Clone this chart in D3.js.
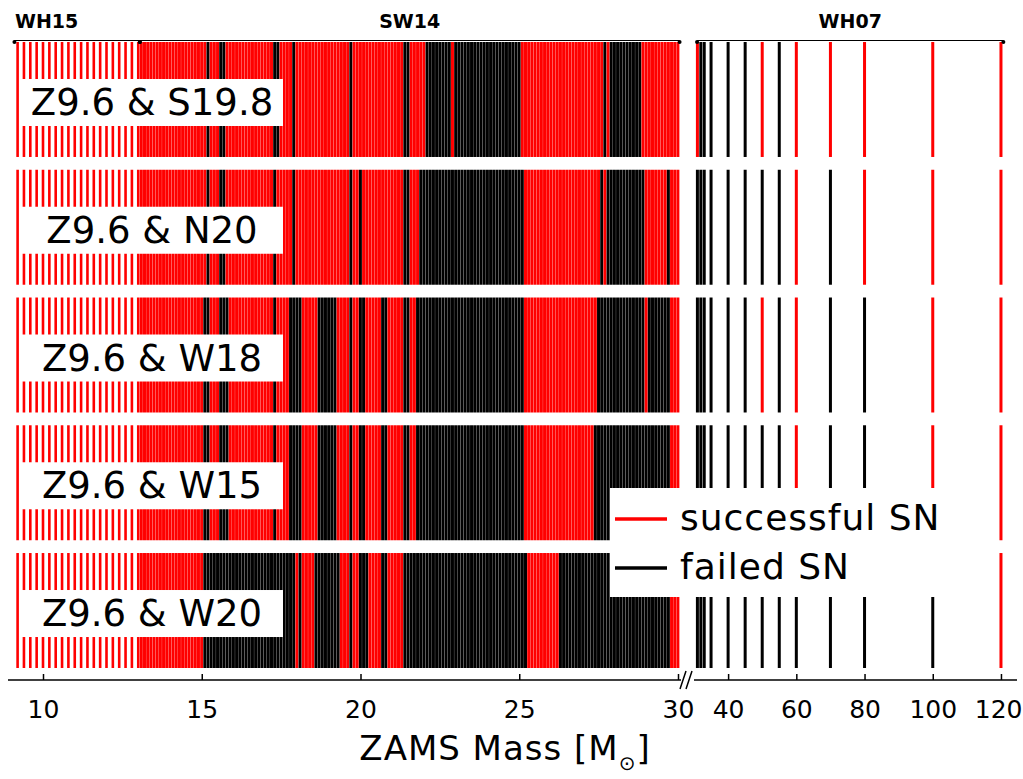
<!DOCTYPE html>
<html>
<head>
<meta charset="utf-8">
<script src="https://cdn.jsdelivr.net/npm/d3@7"></script>
<style>
  body { margin: 0; background: #fff; }
  text { font-family: "DejaVu Sans", sans-serif; }
</style>
</head>
<body>
<svg id="chart"></svg>
<script>
// engine labels, one row each
const rowLabels = ["Z9.6 & S19.8", "Z9.6 & N20", "Z9.6 & W18", "Z9.6 & W15", "Z9.6 & W20"];

// progenitor sets (ZAMS masses)
const wh15Masses = [9.2, 9.4, 9.6, 9.8, 10.0, 10.2, 10.4, 10.6, 10.8, 11.0,
  11.2, 11.4, 11.6, 11.8, 12.0, 12.2, 12.4, 12.6, 12.8, 13.0];
const sw14Masses = [
  13.1, 13.2, 13.3, 13.4, 13.5, 13.6, 13.7, 13.8, 13.9, 14.0,
  14.1, 14.2, 14.3, 14.4, 14.5, 14.6, 14.7, 14.8, 14.9, 15.0,
  15.1, 15.2, 15.3, 15.4, 15.5, 15.6, 15.7, 15.8, 15.9, 16.0,
  16.1, 16.2, 16.3, 16.4, 16.5, 16.6, 16.7, 16.8, 16.9, 17.0,
  17.1, 17.2, 17.3, 17.4, 17.5, 17.6, 17.7, 17.8, 17.9, 18.0,
  18.1, 18.2, 18.3, 18.4, 18.5, 18.6, 18.7, 18.8, 18.9, 19.0,
  19.1, 19.2, 19.3, 19.4, 19.5, 19.6, 19.7, 19.8, 19.9, 20.0,
  20.1, 20.2, 20.3, 20.4, 20.5, 20.6, 20.7, 20.8, 20.9, 21.0,
  21.1, 21.2, 21.3, 21.4, 21.5, 21.6, 21.7, 21.8, 21.9, 22.0,
  22.1, 22.2, 22.3, 22.4, 22.5, 22.6, 22.7, 22.8, 22.9, 23.0,
  23.1, 23.2, 23.3, 23.4, 23.5, 23.6, 23.7, 23.8, 23.9, 24.0,
  24.1, 24.2, 24.3, 24.4, 24.5, 24.6, 24.7, 24.8, 24.9, 25.0,
  25.1, 25.2, 25.3, 25.4, 25.5, 25.6, 25.7, 25.8, 25.9, 26.0,
  26.1, 26.2, 26.3, 26.4, 26.5, 26.6, 26.7, 26.8, 26.9, 27.0,
  27.1, 27.2, 27.3, 27.4, 27.5, 27.6, 27.7, 27.8, 27.9, 28.0,
  28.1, 28.2, 28.3, 28.4, 28.5, 28.6, 28.7, 28.8, 28.9, 29.0,
  29.1, 29.2, 29.3, 29.4, 29.5, 29.6, 29.7, 29.8, 29.9, 30.0];
const wh07Masses = [31, 32, 33, 35, 40, 45, 50, 55, 60, 70, 80, 100, 120];

// SW14 mass ranges that fail to explode, per engine
const failS198 = [[15.2, 15.2], [15.6, 15.7], [17.3, 17.4], [17.9, 17.9], [19.7, 19.7],
  [21.4, 21.5], [22.1, 22.8], [23.0, 25.0], [27.7, 27.7], [27.9, 28.8]];
const failN20 = [[15.2, 15.2], [15.6, 15.7], [17.3, 17.3], [17.9, 17.9], [19.7, 19.7],
  [20.0, 20.0], [21.4, 21.5], [21.9, 25.1], [27.6, 27.6], [27.8, 28.9], [29.7, 29.7]];
const failW18 = [[15.1, 15.2], [15.6, 15.8], [17.3, 17.3], [17.8, 18.1], [18.7, 19.2],
  [19.7, 19.7], [20.0, 20.1], [20.7, 20.8], [21.4, 21.5], [21.8, 25.1], [27.5, 28.9], [29.1, 29.7]];
const failW15 = [[15.1, 15.2], [15.6, 15.8], [17.3, 17.3], [17.8, 18.1], [18.7, 19.2],
  [19.7, 19.7], [20.0, 20.1], [20.7, 20.8], [21.4, 21.5], [21.8, 25.1], [27.4, 29.7]];
const failW20 = [[15.1, 17.9], [18.1, 18.1], [18.6, 19.3], [19.7, 19.7], [20.0, 20.2],
  [20.7, 20.8], [21.4, 25.2], [26.3, 29.7]];

// WH07 outcomes (1 = successful SN, 0 = failed), same order as wh07Masses
const wh07S198 = [1, 0, 0, 0, 0, 0, 1, 0, 1, 1, 1, 1, 1];
const wh07N20  = [0, 0, 0, 0, 0, 0, 0, 0, 1, 0, 1, 1, 1];
const wh07W18  = [0, 0, 0, 0, 0, 0, 1, 0, 1, 0, 0, 1, 1];
const wh07W15  = [0, 0, 0, 0, 0, 0, 0, 0, 1, 0, 0, 1, 1];
const wh07W20  = [0, 0, 0, 0, 0, 0, 0, 0, 0, 0, 0, 0, 1];

const leftTicks = [10, 15, 20, 25, 30];
const rightTicks = [40, 60, 80, 100, 120];

const failedSets = [failS198, failN20, failW18, failW15, failW20];
const wh07Sets = [wh07S198, wh07N20, wh07W18, wh07W15, wh07W20];

const w = 1023, h = 779;
const red = "#ff0000", black = "#000000";
const axisY = 680;

const svg = d3.select("#chart").attr("width", w).attr("height", h);

// broken x axis: two linear pieces
const xLeft = d3.scaleLinear().domain([9, 30]).range([11.25, 678]);
const xRight = d3.scaleLinear().domain([30, 124.7]).range([694, 1017]);
const yRow = d3.scaleBand().domain(rowLabels).range([42, 668]).paddingInner(0.1);

const isFailed = (ranges, m) => ranges.some(r => m >= r[0] - 1e-6 && m <= r[1] + 1e-6);

rowLabels.forEach((label, i) => {
  const g = svg.append("g").attr("class", "row");
  const y0 = yRow(label), bh = yRow.bandwidth();

  // WH15 (all explode)
  g.selectAll("rect.wh15")
    .data(wh15Masses)
    .join("rect")
    .attr("class", "wh15")
    .attr("x", d => xLeft(d) - 1.3)
    .attr("y", y0)
    .attr("width", 2.6)
    .attr("height", bh)
    .attr("fill", red);

  // SW14, 0.1 Msun grid
  const dx = xLeft(9.1) - xLeft(9);
  g.selectAll("rect.sw14")
    .data(sw14Masses)
    .join("rect")
    .attr("class", "sw14")
    .attr("x", d => xLeft(d) - dx / 2)
    .attr("y", y0)
    .attr("width", dx - 0.2)
    .attr("height", bh)
    .attr("fill", d => isFailed(failedSets[i], d) ? black : red);

  // WH07
  g.selectAll("rect.wh07")
    .data(wh07Masses)
    .join("rect")
    .attr("class", "wh07")
    .attr("x", d => xRight(d) - 1.5)
    .attr("y", y0)
    .attr("width", 3)
    .attr("height", bh)
    .attr("fill", (d, k) => wh07Sets[i][k] ? red : black);
});

// legend box (drawn over the lower right bars)
const legend = svg.append("g").attr("class", "legend");
legend.append("rect")
  .attr("x", 610).attr("y", 488).attr("width", 345).attr("height", 109)
  .attr("fill", "#fff");
[["successful SN", red, 519], ["failed SN", black, 568]].forEach(([t, c, ly]) => {
  legend.append("line")
    .attr("x1", 615).attr("x2", 667).attr("y1", ly).attr("y2", ly)
    .attr("stroke", c).attr("stroke-width", 3.5);
  legend.append("text")
    .attr("x", 680).attr("y", ly + 11)
    .style("font-size", "36px")
    .style("letter-spacing", "1px")
    .text(t);
});

// row labels in white boxes
rowLabels.forEach(label => {
  const y0 = yRow(label);
  svg.append("rect")
    .attr("x", 22).attr("y", y0 + 37).attr("width", 261).attr("height", 47)
    .attr("fill", "#fff");
  svg.append("text")
    .attr("x", 152).attr("y", y0 + 73)
    .attr("text-anchor", "middle")
    .style("font-size", "37px")
    .text(label);
});

// brackets for the progenitor sets
const groups = [
  { name: "WH15", x1: xLeft(9.1), x2: xLeft(13.05), lx: 15, anchor: "start" },
  { name: "SW14", x1: xLeft(13.05), x2: xLeft(30.05), lx: null, anchor: "middle" },
  { name: "WH07", x1: xRight(30.9), x2: xRight(120.7), lx: null, anchor: "middle" }
];
groups.forEach(gr => {
  const b = svg.append("g");
  b.append("line").attr("x1", gr.x1).attr("x2", gr.x2).attr("y1", 40.5).attr("y2", 40.5)
    .attr("stroke", "#000").attr("stroke-width", 1.2);
  [gr.x1, gr.x2].forEach(x => {
    b.append("circle").attr("cx", x).attr("cy", 42).attr("r", 2).attr("fill", "#000");
  });
  b.append("text")
    .attr("x", gr.lx === null ? (gr.x1 + gr.x2) / 2 : gr.lx)
    .attr("y", 28)
    .attr("text-anchor", gr.anchor)
    .style("font-size", "19px")
    .style("font-weight", "bold")
    .text(gr.name);
});

// x axes
const axisL = d3.axisBottom(xLeft).tickValues(leftTicks).tickSizeInner(-6).tickSizeOuter(0).tickPadding(20);
const axisR = d3.axisBottom(xRight).tickValues(rightTicks).tickSizeInner(-6).tickSizeOuter(0).tickPadding(20);

const gL = svg.append("g").attr("transform", `translate(0,${axisY})`).call(axisL);
const gR = svg.append("g").attr("transform", `translate(0,${axisY})`).call(axisR);
[gL, gR].forEach(g => {
  g.select(".domain").remove();
  g.selectAll("line").attr("stroke", "#000").attr("stroke-width", 1.5);
  g.selectAll("text").style("font-size", "25px").style("font-family", "'DejaVu Sans', sans-serif");
});
// last label kept inside the page
gR.selectAll(".tick text").filter(d => d === 120).attr("text-anchor", "end").attr("dx", 21);
svg.append("line").attr("x1", 8).attr("x2", 681).attr("y1", axisY).attr("y2", axisY)
  .attr("stroke", "#000").attr("stroke-width", 1.5);
svg.append("line").attr("x1", 694).attr("x2", 1017).attr("y1", axisY).attr("y2", axisY)
  .attr("stroke", "#000").attr("stroke-width", 1.5);
// break marks
[680, 686].forEach(x => {
  svg.append("line").attr("x1", x).attr("x2", x + 6).attr("y1", 689).attr("y2", 671)
    .attr("stroke", "#000").attr("stroke-width", 1.5);
});

// axis title
const title = svg.append("text")
  .attr("x", 505).attr("y", 760)
  .attr("text-anchor", "middle")
  .style("font-size", "34px")
  .style("letter-spacing", "1px");
title.append("tspan").text("ZAMS Mass [M");
title.append("tspan").attr("dy", 10).style("font-size", "20px").text("\u2299");
title.append("tspan").attr("dy", -10).text("]");
</script>
</body>
</html>
